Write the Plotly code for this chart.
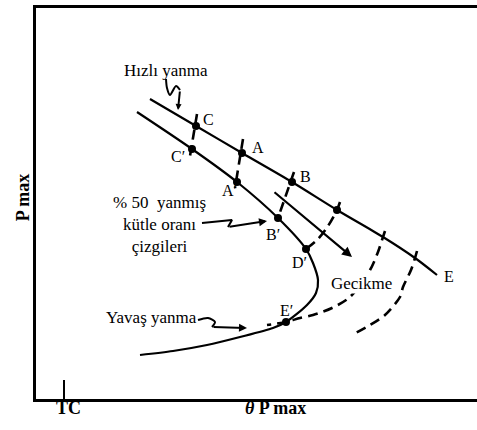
import plotly.graph_objects as go

# Schematic values (theta_Pmax units, Pmax units)
upper_theta = [114, 160, 206, 256, 301, 347, 379, 401]
upper_p = [300, 273, 246, 217, 189, 162, 141, 124]

lower_theta = [101, 156, 201, 242, 270, 277, 282, 280, 271, 250, 237, 204, 171, 137, 104]
lower_p = [287, 250, 217, 181, 150, 136, 119, 106, 94, 77, 71, 62, 54, 48, 44]

cc_theta = [161, 154]; cc_p = [285, 243]
aa_theta = [207, 199]; aa_p = [260, 211]
bb_theta = [258, 242]; bb_p = [227, 181]
dd_theta = [304, 301, 292, 282, 270]; dd_p = [197, 189, 173, 160, 150]

ee_theta = [349, 347, 342, 334, 314, 296, 277, 264, 250, 231]
ee_p = [168, 162, 147, 129, 102, 91, 84, 81, 77, 74]

outer_theta = [381, 379, 375, 367, 364, 349, 334, 316]
outer_p = [148, 141, 129, 112, 102, 84, 74, 64]

dot_labels = ["C", "C′", "A", "A′", "B", "B′", "", "D′", "E′"]
dot_theta = [160, 156, 206, 201, 256, 242, 301, 270, 250]
dot_p = [273, 250, 246, 217, 217, 181, 189, 150, 77]

delay_theta = [237, 316]; delay_p = [208, 142]

fast_sq_theta = [130, 131, 134, 140, 144, 142]
fast_sq_p = [320, 311, 304, 313, 309, 289]
mid_sq_theta = [166, 196, 192, 231]
mid_sq_p = [176, 179, 172, 178]
slow_sq_theta = [162, 172, 179, 176, 211]
slow_sq_p = [79, 81, 77, 72, 71]

tc_theta = 28
x_ticks = ["TC", "<i>θ</i> P max"]
y_title = "P max"

X_MAX, Y_MAX = 441, 391

SERIF = "Liberation Serif, Times New Roman, serif"
K = "black"

fig = go.Figure()

def add_line(xs, ys, dash=None, width=2.2, shape="spline"):
    fig.add_trace(go.Scatter(x=xs, y=ys, mode="lines",
                             line=dict(color=K, width=width, dash=dash, shape=shape,
                                       smoothing=0.8),
                             hoverinfo="skip", showlegend=False))

add_line(upper_theta, upper_p)
add_line(lower_theta, lower_p)
DASH = "10px,6px"
DW = 2.6
add_line(cc_theta, cc_p, DASH, DW, shape="linear")
add_line(aa_theta, aa_p, DASH, DW, shape="linear")
add_line(bb_theta, bb_p, DASH, DW, shape="linear")
add_line(dd_theta, dd_p, DASH, DW)
add_line(ee_theta, ee_p, DASH, DW)
add_line(outer_theta, outer_p, DASH, DW)

# squiggles (without last segment, drawn as arrows)
add_line(fast_sq_theta[:-1], fast_sq_p[:-1], width=2, shape="spline")
add_line(mid_sq_theta[:-1], mid_sq_p[:-1], width=2, shape="linear")
add_line(slow_sq_theta[:-1], slow_sq_p[:-1], width=2, shape="spline")

# TC tick
add_line([tc_theta, tc_theta], [0, 19], width=2, shape="linear")

fig.add_trace(go.Scatter(x=dot_theta, y=dot_p, mode="markers",
                         marker=dict(color=K, size=8),
                         hoverinfo="skip", showlegend=False))

def arrow(xs, ys, width=2, head=2, size=1.0):
    fig.add_annotation(x=xs[-1], y=ys[-1], ax=xs[-2], ay=ys[-2],
                       xref="x", yref="y", axref="x", ayref="y",
                       text="", showarrow=True, arrowhead=head,
                       arrowsize=size, arrowwidth=width, arrowcolor=K)

arrow(delay_theta, delay_p, width=2.2, head=2, size=0.9)
arrow(fast_sq_theta, fast_sq_p, width=2, head=2, size=0.6)
arrow(mid_sq_theta, mid_sq_p, width=2, head=2, size=0.8)
arrow(slow_sq_theta, slow_sq_p, width=2, head=2, size=0.8)

def label(txt, x, y, size=17, ref="x", **kw):
    if ref == "paper":
        x, y = x / X_MAX, y / Y_MAX
        xr, yr = "paper", "paper"
    else:
        xr, yr = "x", "y"
    fig.add_annotation(x=x, y=y, xref=xr, yref=yr, text=txt, showarrow=False,
                       font=dict(family=SERIF, size=size, color=K),
                       xanchor="center", yanchor="middle", **kw)

label("C", 172, 280, 16)
label("C′", 142, 243, 16)
label("A", 222, 252, 16)
label("A′", 193, 209, 16)
label("B", 269, 223, 16)
label("B′", 237, 165, 16)
label("D′", 263, 137, 16)
label("E′", 250, 89, 16)
label("E", 413, 123, 16)
label("Gecikme", 325, 116, bgcolor="white", borderpad=0)
label("Hızlı yanma", 129.5, 329)
label("% 50  yanmış<br>kütle oranı<br>çizgileri", 123, 174.5)
label("Yavaş yanma", 115, 82)
label("<b>" + y_title + "</b>", -12.7, 202, 18, ref="paper", textangle=-90)
label("<b>" + x_ticks[0] + "</b>", 32, -9, 18, ref="paper")
label("<b>" + x_ticks[1] + "</b>", 239, -9, 18, ref="paper")

fig.update_xaxes(range=[0, X_MAX], showline=True, linewidth=2.5, linecolor=K, mirror=True,
                 showgrid=False, zeroline=False, showticklabels=False, ticks="")
fig.update_yaxes(range=[0, Y_MAX], showline=True, linewidth=2.5, linecolor=K, mirror=False,
                 showgrid=False, zeroline=False, showticklabels=False, ticks="")
fig.update_layout(width=477, height=430, margin=dict(l=36, r=0, t=8, b=31),
                  plot_bgcolor="white", paper_bgcolor="white", showlegend=False)

fig.write_html("out.html", config={"displayModeBar": False},
               post_script="document.body.style.margin='0';document.body.style.overflow='hidden';")
